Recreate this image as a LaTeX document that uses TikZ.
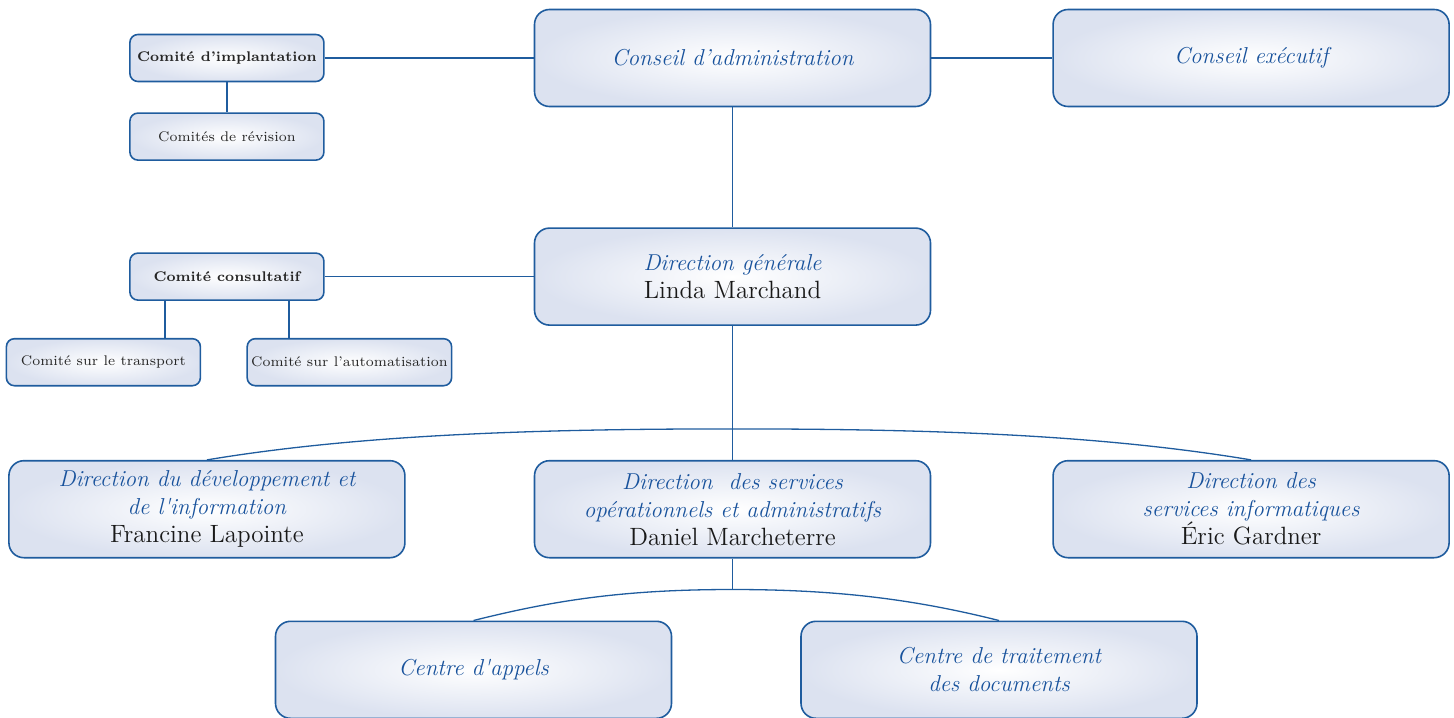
\documentclass[tikz,border=0pt]{standalone}
\usepackage{fontspec}
\usetikzlibrary{positioning}
\definecolor{boxline}{HTML}{1F5C9E}
\definecolor{boxedge}{HTML}{DCE2F0}
\definecolor{titleblue}{HTML}{18529C}
\newcommand{\who}[1]{{\upshape\fontsize{12.5}{15}\selectfont\color{black!90}#1}}

\begin{document}
\begin{tikzpicture}[x=0.5pt, y=-0.5pt, line width=0.65pt,
  big box/.style={rectangle, rounded corners=7.5pt, draw=boxline, line width=0.8pt, inner color=white, outer color=boxedge, minimum width=198pt, minimum height=48.5pt, align=center, text=titleblue, font=\fontsize{11.5}{14}\selectfont\itshape},
  small box/.style={big box, rounded corners=4pt, inner xsep=2pt, minimum width=97pt, minimum height=23.5pt, text=black!85, font=\fontsize{7}{9}\selectfont},
  link/.style={draw=boxline}]
\useasboundingbox (0,0) rectangle (1454,717);
% top row
\node[big box] (admin) at (732.5,58) {Conseil d’administration};
\node[big box] (exec) [right=60.5pt of admin] {Conseil exécutif};
\node[small box, font=\fontsize{7}{9}\selectfont\bfseries] (impl) [left=104.5pt of admin] {Comité d’implantation};
\node[small box] (rev) [below=15pt of impl] {Comités de révision};
% direction
\node[big box] (dg) [below=60pt of admin] {Direction générale\\\who{Linda Marchand}};
\node[small box, font=\fontsize{7}{9}\selectfont\bfseries] (cc) [left=104.5pt of dg] {Comité consultatif};
\node[small box] (tr) [below=18.5pt of cc, xshift=-61.75pt] {Comité sur le transport};
\node[small box] (au) [below=18.5pt of cc, xshift=61.25pt] {Comité sur l’automatisation};
% directions
\node[big box] (dso) [below=67pt of dg] {Direction\ \ des services\\opérationnels et administratifs\\\who{Daniel Marcheterre}};
\node[big box] (ddi) [left=64pt of dso] {Direction du développement et\\de l\textquotesingle information\\\who{Francine Lapointe}};
\node[big box] (dsi) [right=60.5pt of dso] {Direction des\\services informatiques\\\who{Éric Gardner}};
% centres
\node[big box] (ca) [below=31pt of dso, xshift=-129.5pt] {Centre d\textquotesingle appels};
\node[big box] (ct) [below=31pt of dso, xshift=133.25pt] {Centre de traitement\\des documents};
\coordinate (top1) at ([yshift=15.5pt]dso.north);
\coordinate (top2) at ([yshift=-15.5pt]dso.south);
% links
\draw[link] (impl.east) -- (admin.west);
\draw[link] (admin.east) -- (exec.west);
\draw[link] (impl.south) -- (rev.north);
\draw[link] (admin.south) -- (dg.north);
\draw[link] (cc.east) -- (cc.east -| dg.west);
\draw[link] ([xshift=-31pt]cc.south) -- ([xshift=-31pt]cc.south |- tr.north);
\draw[link] ([xshift=31pt]cc.south) -- ([xshift=31pt]cc.south |- au.north);
\draw[link] (dg.south) -- (dso.north);
\draw[link] (ddi.north) .. controls +(150,-25) and +(-200,0) .. (top1) .. controls +(200,0) and +(-150,-25) .. (dsi.north);
\draw[link] (dso.south) -- (top2);
\draw[link] (ca.north) .. controls +(80,-20) and +(-110,0) .. (top2) .. controls +(110,0) and +(-80,-20) .. (ct.north);
\end{tikzpicture}
\end{document}
